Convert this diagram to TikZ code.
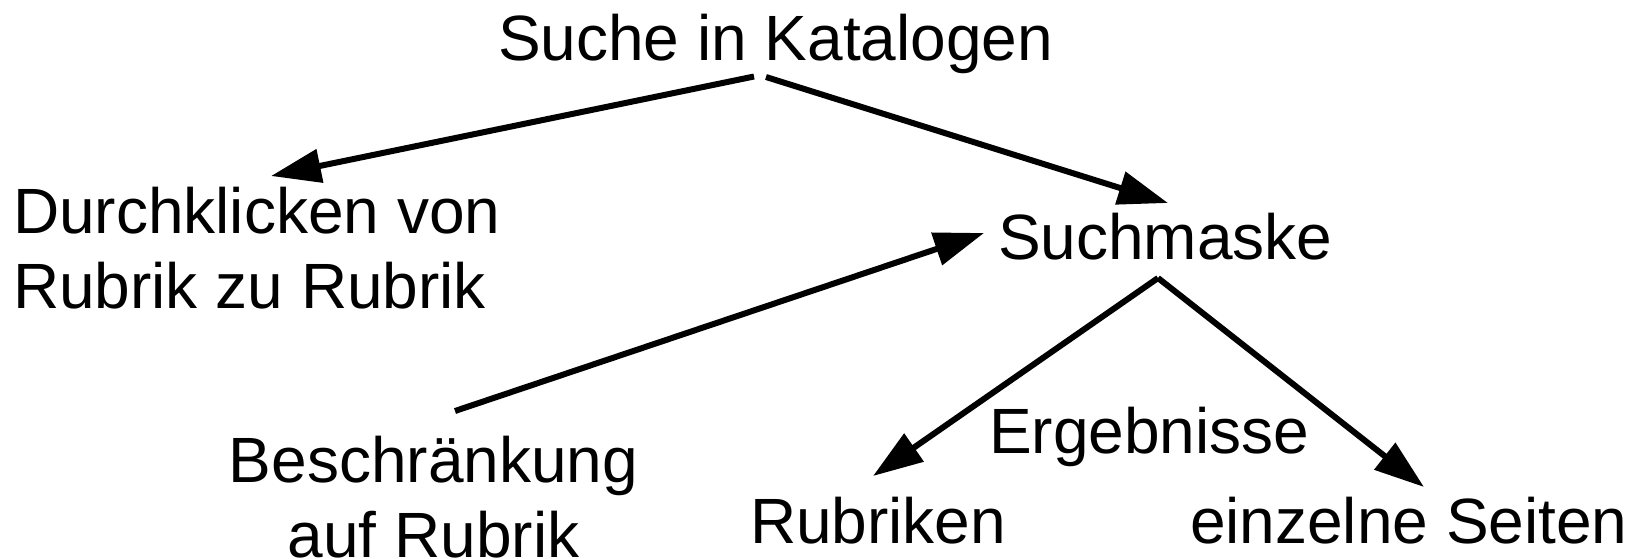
\documentclass[tikz,border=0pt]{standalone}
\usepackage{fontspec}
\setmainfont{Liberation Sans}
\usetikzlibrary{arrows.meta}
\begin{document}
\begin{tikzpicture}[x=1pt,y=-1pt,
  label/.style={inner sep=0pt,outer sep=0pt,font=\fontsize{64}{75}\selectfont},
  arr/.style={line width=6pt,line cap=butt,-{Triangle[length=50pt,width=33pt]}}]
\useasboundingbox (0,0) rectangle (1643,558);
% labels (multi-line nodes are anchored on the baseline of their last line)
\node[label,anchor=base west] (kat) at (498,60) {Suche in Katalogen};
\node[label,anchor=base west,align=left] (dur) at (13,308) {Durchklicken von\\Rubrik zu Rubrik};
\node[label,anchor=base west] (mask) at (998,259) {Suchmaske};
\node[label,anchor=base,align=center] (bes) at (433.5,557) {Beschränkung\\auf Rubrik};
\node[label,anchor=base west] (erg) at (989,453) {Ergebnisse};
\node[label,anchor=base west] (rub) at (750,543) {Rubriken};
\node[label,anchor=base west] (ein) at (1190,543) {einzelne Seiten};
% connectors
\draw[arr] ([shift={(256,16.5)}]kat.base west) -- ([shift={(258,-132)}]dur.base west);
\draw[arr] ([shift={(268,17)}]kat.base west) -- ([shift={(170,-56)}]mask.base west);
\draw[arr] ([shift={(21.5,-146)}]bes.base) -- ([shift={(-14,-26)}]mask.base west);
\draw[arr] ([shift={(160,19)}]mask.base west) -- ([shift={(123,-67)}]rub.base west);
\draw[arr] ([shift={(160,19)}]mask.base west) -- ([shift={(234,-56)}]ein.base west);
\end{tikzpicture}
\end{document}
